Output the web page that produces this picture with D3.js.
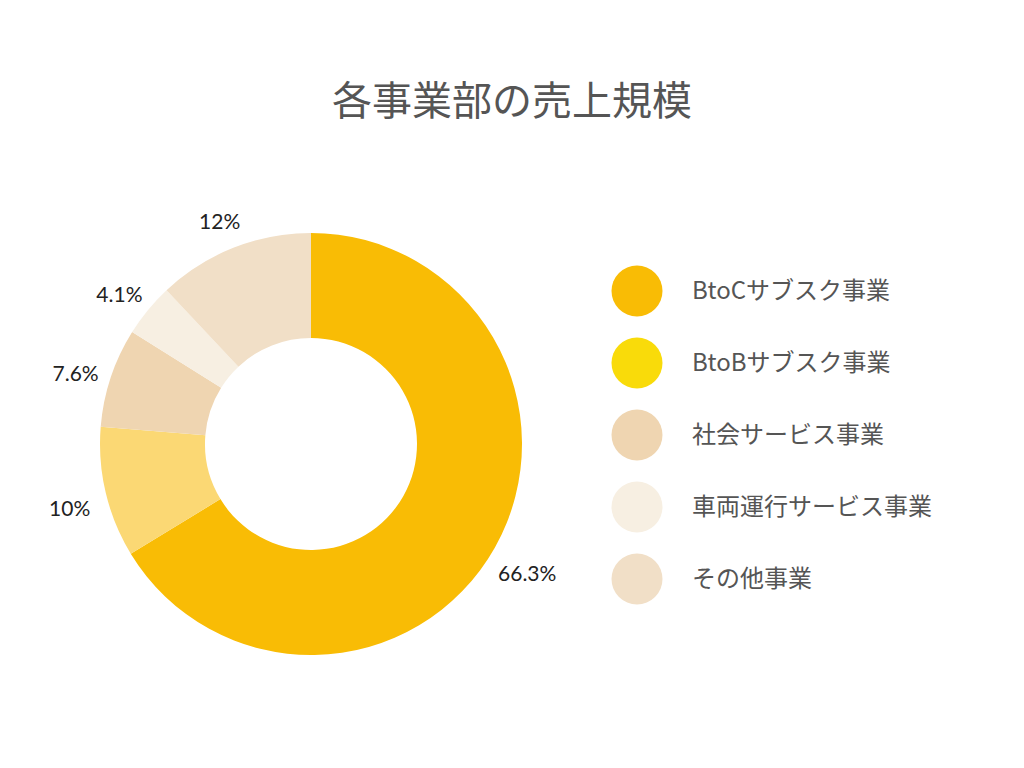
<!DOCTYPE html>
<html>
<head>
<meta charset="utf-8">
<script src="https://cdn.jsdelivr.net/npm/d3@7"></script>
<style>
  body { margin: 0; background: #fff; }
  text { font-family: Lato, "Noto Sans CJK JP", sans-serif; }
</style>
</head>
<body>
<div class="chart"></div>
<script>
var categories = ['BtoCサブスク事業', 'BtoBサブスク事業', '社会サービス事業', '車両運行サービス事業', 'その他事業'];
var values = [66.3, 10, 7.6, 4.1, 12];
var labels = ['66.3%', '10%', '7.6%', '4.1%', '12%'];
var sliceColors = ['#F9BC05', '#FBD874', '#EFD5B1', '#F7EFE2', '#F1DFC7'];
var legendColors = ['#F9BC05', '#F9DB0A', '#EFD5B1', '#F7EFE2', '#F1DFC7'];

var width = 1024, height = 768;
var cx = 311, cy = 444;
var outer = 211, inner = 106;

var svg = d3.select('.chart')
  .append('svg')
  .attr('width', width)
  .attr('height', height);

svg.append('text')
  .attr('x', 512)
  .attr('y', 115)
  .attr('text-anchor', 'middle')
  .style('font-family', '"Noto Sans CJK JP", sans-serif')
  .style('font-size', '40px')
  .style('fill', '#555')
  .text('各事業部の売上規模');

var pie = d3.pie().sort(null).value(d => d);
var arcs = pie(values);

var arc = d3.arc().innerRadius(inner).outerRadius(outer);
var labelArc = d3.arc().innerRadius(248).outerRadius(248);

var g = svg.append('g')
  .attr('transform', 'translate(' + cx + ',' + cy + ')');

g.selectAll('.slice')
  .data(arcs)
  .enter()
  .append('path')
  .attr('class', 'slice')
  .attr('d', arc)
  .style('fill', (d, i) => sliceColors[i]);

g.selectAll('.lbl')
  .data(arcs)
  .enter()
  .append('text')
  .attr('class', 'lbl')
  .attr('transform', d => 'translate(' + labelArc.centroid(d) + ')')
  .attr('y', 8)
  .attr('dy', '0.35em')
  .attr('text-anchor', 'middle')
  .style('font-size', '21px')
  .style('fill', '#222')
  .text((d, i) => labels[i]);

var legendY = d3.scalePoint()
  .domain(categories)
  .range([291, 579]);

var legend = svg.selectAll('.legend')
  .data(categories)
  .enter()
  .append('g')
  .attr('class', 'legend')
  .attr('transform', d => 'translate(637,' + legendY(d) + ')');

legend.append('circle')
  .attr('r', 25.5)
  .style('fill', (d, i) => legendColors[i]);

legend.append('text')
  .attr('x', 55)
  .attr('dy', '0.35em')
  .style('font-family', '"Noto Sans CJK JP", sans-serif')
  .style('font-size', '24px')
  .style('fill', '#555')
  .text(d => d);
</script>
</body>
</html>
